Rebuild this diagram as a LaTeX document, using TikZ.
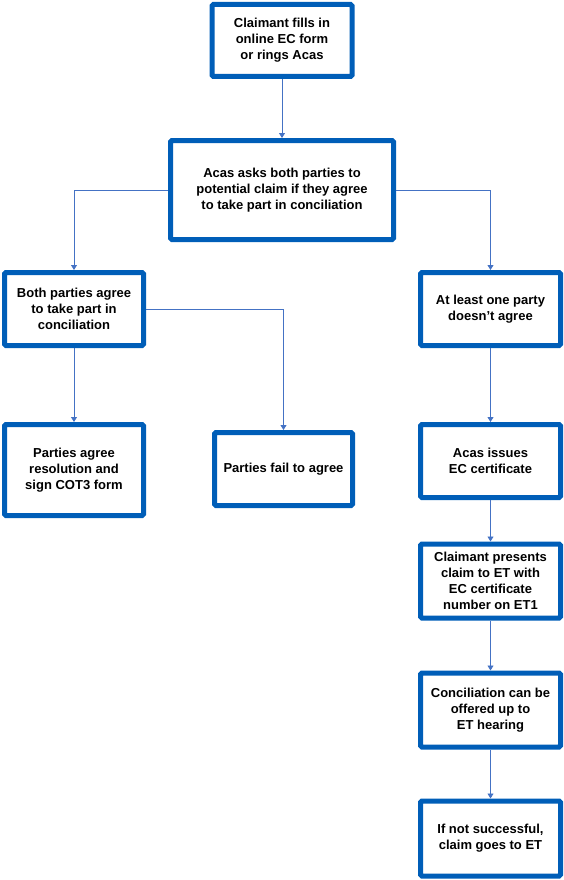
\documentclass[tikz,border=0pt]{standalone}
\usepackage{fontspec}
\setmainfont{Liberation Sans}
\usetikzlibrary{arrows.meta}
\definecolor{boxblue}{RGB}{0,94,184}
\definecolor{lineblue}{RGB}{68,114,196}

\begin{document}
\begin{tikzpicture}[x=1pt,y=-1pt,
  stage/.style={draw=boxblue, line width=5pt, rounded corners=1.5pt, fill=white,
    inner sep=0pt, align=center, font=\bfseries\fontsize{13}{16}\selectfont},
  link/.style={lineblue, line width=0.9pt, -{Triangle[length=5pt,width=6pt]}}]

\useasboundingbox (0,0) rectangle (564,880);

\node[stage, minimum width=140pt, minimum height=72pt] (claim) at (282,40.5)
  {Claimant fills in\\online EC form\\or rings Acas};
\node[stage, minimum width=223pt, minimum height=99pt] (asks) at (282,190)
  {Acas asks both parties to\\potential claim if they agree\\to take part in conciliation};

\node[stage, minimum width=139pt, minimum height=73pt] (agree) at (74,309)
  {Both parties agree\\to take part in\\conciliation};
\node[stage, minimum width=140pt, minimum height=73pt] (refuse) at (490.5,309)
  {At least one party\\doesn’t agree};

\node[stage, minimum width=139pt, minimum height=91pt] (cot) at (74,470)
  {Parties agree\\resolution and\\sign COT3 form};
\node[stage, minimum width=138pt, minimum height=73pt] (fail) at (283.5,469)
  {Parties fail to agree};

\node[stage, minimum width=140pt, minimum height=73pt] (cert) at (490.5,461)
  {Acas issues\\EC certificate};
\node[stage, minimum width=140pt, minimum height=74pt] (present) at (490.5,581)
  {Claimant presents\\claim to ET with\\EC certificate\\number on ET1};
\node[stage, minimum width=140pt, minimum height=74pt] (offer) at (490.5,710)
  {Conciliation can be\\offered up to\\ET hearing};
\node[stage, minimum width=140pt, minimum height=75pt] (tribunal) at (490.5,838.5)
  {If not successful,\\claim goes to ET};

\draw[link] (claim) -- (asks);
\draw[link] (asks.west) -| (agree.north);
\draw[link] (asks.east) -| (refuse.north);
\draw[link] (agree) -- (cot);
\draw[link] (agree.east) -| (fail.north);
\draw[link] (refuse) -- (cert);
\draw[link] (cert) -- (present);
\draw[link] (present) -- (offer);
\draw[link] (offer) -- (tribunal);

\end{tikzpicture}
\end{document}
